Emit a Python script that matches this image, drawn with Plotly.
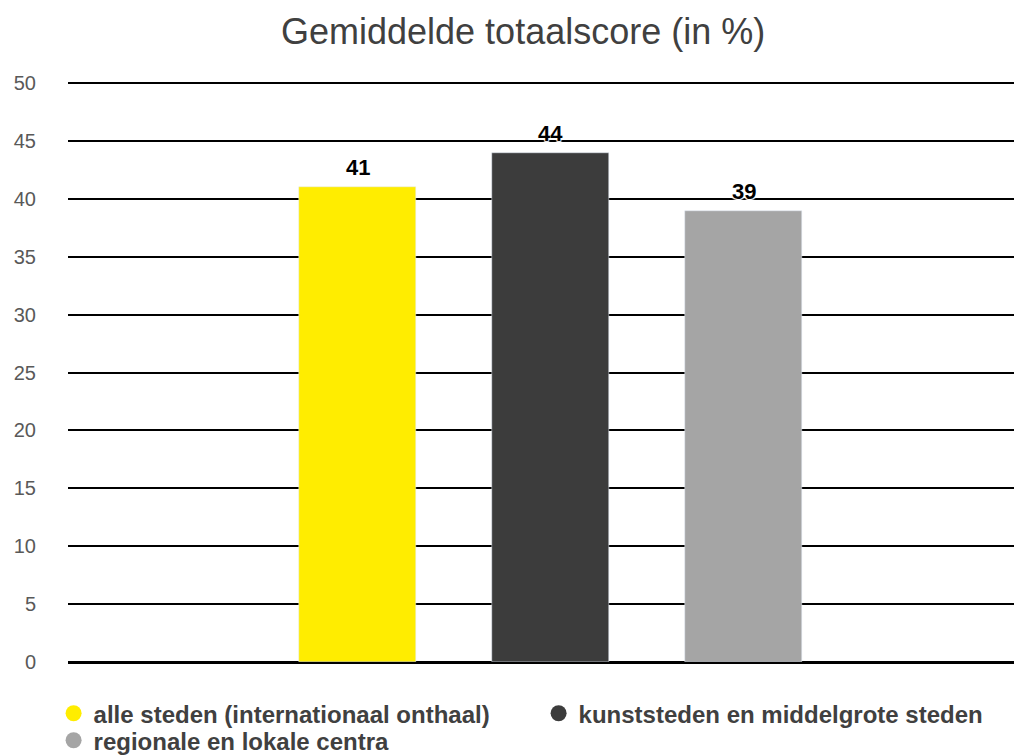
import plotly.graph_objects as go

categories = ["alle steden (internationaal onthaal)", "kunststeden en middelgrote steden", "regionale en lokale centra"]
values = [41, 44, 39]
colors = ["#FFED00", "#3C3C3C", "#A5A5A5"]
legend_ids = ["legend", "legend", "legend2"]
title = "Gemiddelde totaalscore (in %)"

fig = go.Figure()
for i, (cat, v, c, lg) in enumerate(zip(categories, values, colors, legend_ids)):
    fig.add_trace(go.Bar(x=[i], y=[v], name=cat, marker_color=c, width=0.606,
                         showlegend=False, hoverinfo="skip"))
    fig.add_trace(go.Scatter(x=[None], y=[None], mode="markers", name=cat, legend=lg,
                             marker=dict(symbol="circle", size=16, color=c)))
    fig.add_annotation(x=i, y=v, text=f"<b>{v}</b>", showarrow=False,
                       yanchor="bottom", yshift=5,
                       font=dict(family="Liberation Sans", size=22, color="#000000",
                                 shadow="1px 1px 1px #fff, -1px -1px 1px #fff, 1px -1px 1px #fff, -1px 1px 1px #fff"))

legend_style = dict(orientation="h", x=-0.0151, xanchor="left", yanchor="top",
                    entrywidth=440, entrywidthmode="pixels", tracegroupgap=0,
                    itemsizing="trace", bgcolor="rgba(0,0,0,0)",
                    font=dict(family="Liberation Sans", size=24, color="#404040", weight="bold"))

fig.update_layout(
    width=1014, height=747,
    margin=dict(l=60, r=0, t=74, b=93, autoexpand=False),
    paper_bgcolor="white", plot_bgcolor="white",
    title=dict(text=title, x=0.508, xanchor="center", y=0.969, yanchor="middle",
               font=dict(family="Liberation Sans", size=36, color="#404040")),
    xaxis=dict(range=[-1.5, 3.443], showticklabels=False, showgrid=False,
               zeroline=False, fixedrange=True),
    yaxis=dict(range=[0, 50.1], dtick=5, tick0=0, showgrid=True, gridcolor="#000000",
               gridwidth=2, zeroline=True, zerolinecolor="#000000", zerolinewidth=3,
               ticks="", ticklabelstandoff=31,
               tickfont=dict(family="Liberation Sans", size=20, color="#595959")),
    legend=dict(legend_style, y=-0.0503),
    legend2=dict(legend_style, y=-0.0968),
    bargap=0,
)

fig.write_html("out.html")
